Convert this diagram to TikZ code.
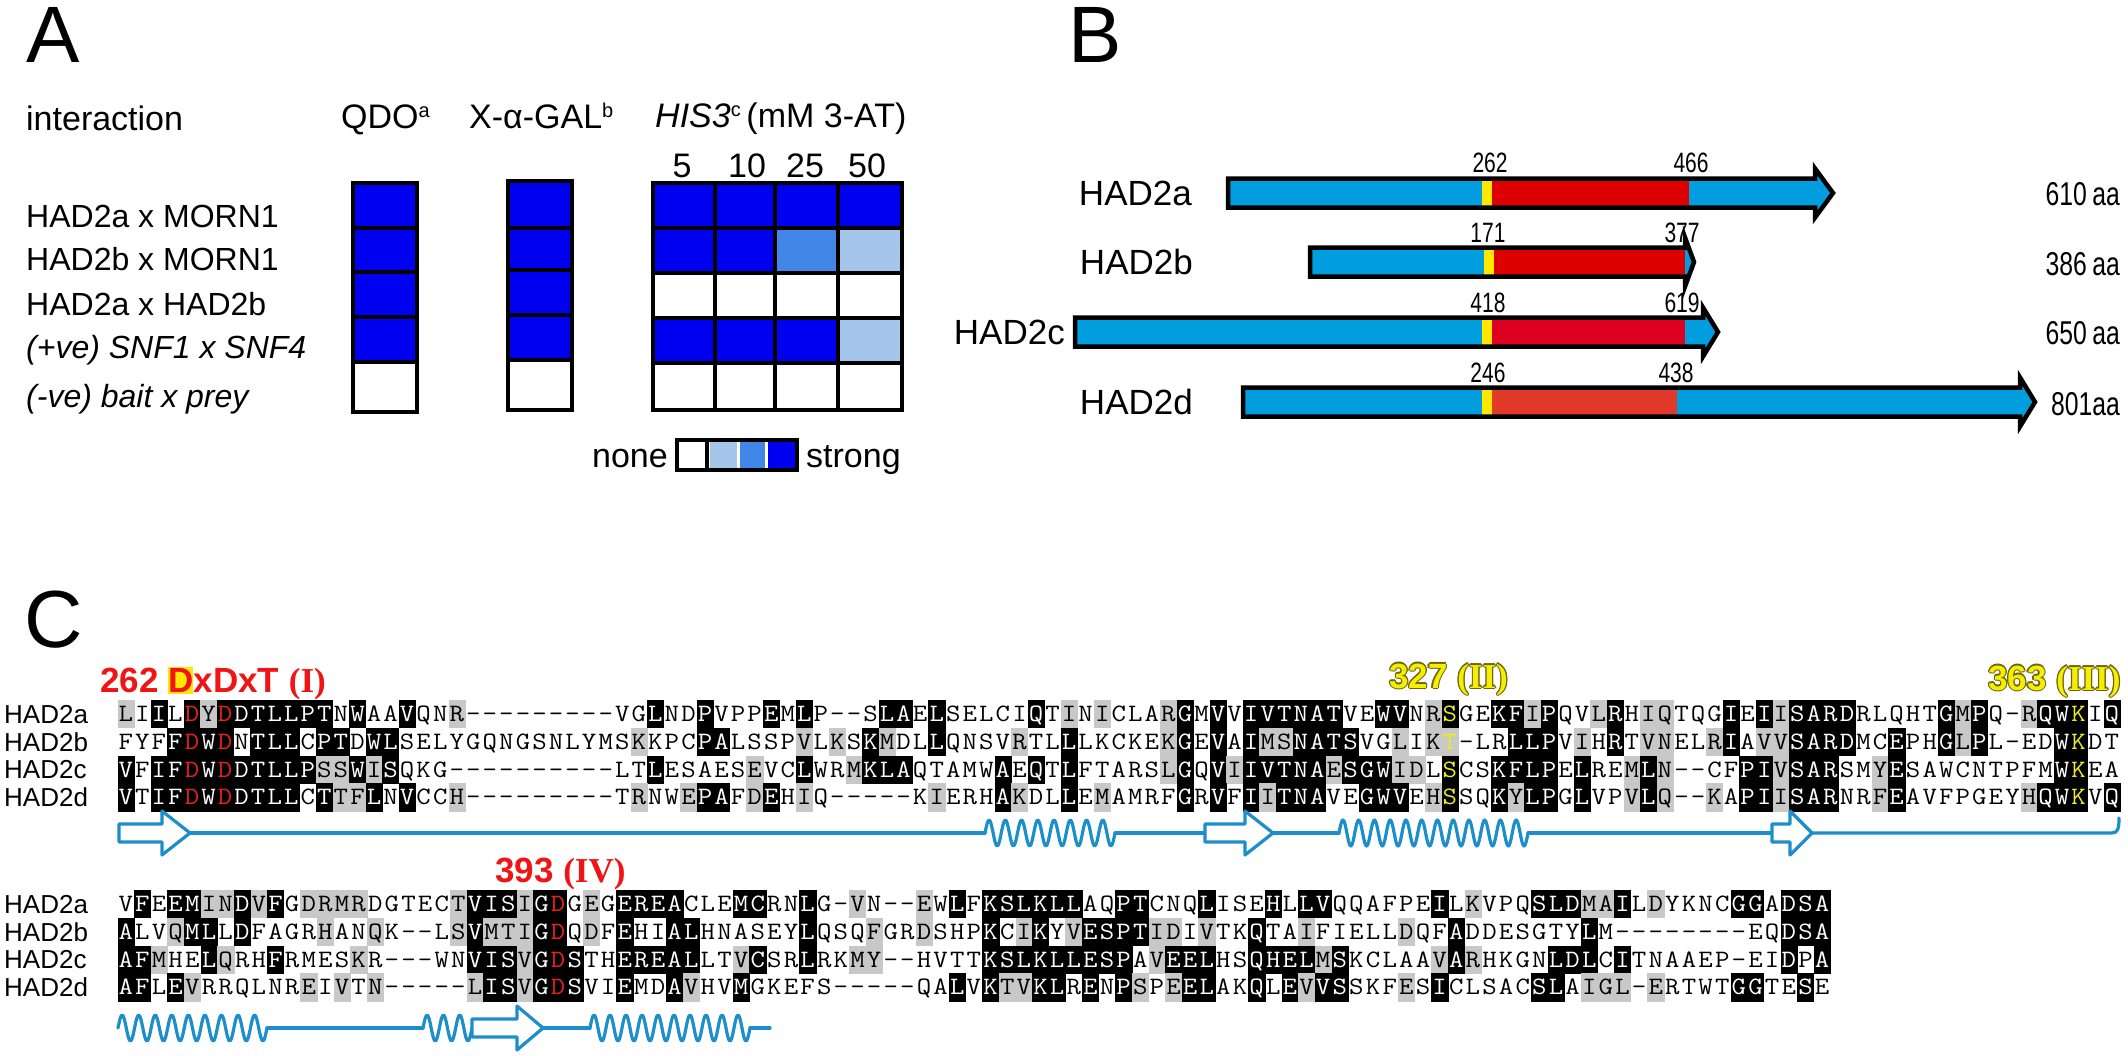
\documentclass[tikz,border=0pt]{standalone}
\usepackage{fontspec}
\usepackage{xstring}
\setmainfont{Liberation Sans}
\newfontfamily\condsans[FakeStretch=0.75]{Liberation Sans}
\newfontfamily\timesf{Liberation Serif}
\definecolor{hblue}{RGB}{0,0,240}
\definecolor{mblue}{RGB}{66,134,232}
\definecolor{lblue}{RGB}{164,198,234}
\definecolor{bcyan}{RGB}{0,158,222}
\definecolor{bred}{RGB}{220,0,0}
\definecolor{bredc}{RGB}{222,0,32}
\definecolor{bredd}{RGB}{226,58,42}
\definecolor{byel}{RGB}{255,232,0}
\definecolor{sscol}{RGB}{28,142,204}
\definecolor{shgray}{RGB}{200,200,200}
\definecolor{motred}{RGB}{240,20,20}
\definecolor{motyel}{RGB}{245,238,0}
\definecolor{ylout}{RGB}{110,100,20}
\definecolor{seqred}{RGB}{235,30,30}
\definecolor{seqyel}{RGB}{235,235,40}
\tikzset{
  seqtxt/.style={font=\ttfamily\fontsize{25}{25}\selectfont, inner sep=0pt, anchor=base, xscale=1.12},
  ss/.style={draw=sscol, line width=3.2pt, line cap=round, line join=round},
  thk/.style={line width=4pt},
  motif/.style={anchor=base west, inner sep=0pt, font=\bfseries\fontsize{35}{35}\selectfont},
  numl/.style={anchor=base, inner sep=0pt, font=\condsans\fontsize{28}{28}\selectfont},
  aal/.style={anchor=base east, inner sep=0pt, font=\condsans\fontsize{33}{33}\selectfont},
  blab/.style={anchor=base east, inner sep=0pt, font=\fontsize{35}{35}\selectfont},
  alab/.style={anchor=base west, inner sep=0pt, font=\fontsize{32}{32}\selectfont},
  hlab/.style={anchor=base west, inner sep=0pt, font=\fontsize{34}{34}\selectfont},
  slab/.style={anchor=base west, inner sep=0pt, font=\fontsize{26}{26}\selectfont},
  panel/.style={anchor=base west, inner sep=0pt, font=\fontsize{80}{80}\selectfont}
}
\newcommand\supr[1]{\raisebox{11pt}{\fontsize{20}{20}\selectfont #1}}
\def\pitch{16.55}
\def\rowh{27.7}
\newcommand\seqrow[5]{%
  \StrDel{#4}{|}[\resstr]%
  \StrDel{#5}{|}[\shstr]%
  \StrLen{\resstr}[\seqlen]%
  \foreach \k in {1,...,\seqlen}{%
    \StrChar{\resstr}{\k}[\ch]%
    \StrChar{\shstr}{\k}[\sh]%
    \pgfmathsetmacro\xl{#2+(\k-1)*\pitch}%
    \def\tcol{black}%
    \if\sh B\fill[black] (\xl,#3-\rowh/2) rectangle ++(\pitch+0.6,\rowh+0.6);\def\tcol{white}\fi
    \if\sh R\fill[black] (\xl,#3-\rowh/2) rectangle ++(\pitch+0.6,\rowh+0.6);\def\tcol{seqred}\fi
    \if\sh Y\fill[black] (\xl,#3-\rowh/2) rectangle ++(\pitch+0.6,\rowh+0.6);\def\tcol{seqyel}\fi
    \if\sh g\fill[shgray] (\xl,#3-\rowh/2) rectangle ++(\pitch+0.6,\rowh+0.6);\fi
    \if\sh y\fill[shgray] (\xl,#3-\rowh/2) rectangle ++(\pitch+0.6,\rowh+0.6);\def\tcol{seqyel}\fi
    \node[seqtxt,text=\tcol] (#1-\k) at (\xl+\pitch/2,#3+7.6) {\ch};
  }}
\newcommand\helix[3]{%
  \pgfmathtruncatemacro\hn{round((#2-#1)/16)}%
  \pgfmathsetmacro\hp{(#2-#1)/\hn}%
  \pgfmathtruncatemacro\hs{\hn*16+1}%
  \pgfmathsetmacro\hd{\hn*360}%
  \draw[ss] plot[domain=0:\hd, samples=\hs, smooth] ({#1+\x/360*\hp},{#3-13*sin(\x)});}
\newcommand\strand[4]{%
  \draw[ss,fill=white] (#1,#4-9) -- (#2,#4-9) -- (#2,#4-22) -- (#3,#4) -- (#2,#4+22) -- (#2,#4+9) -- (#1,#4+9) -- cycle;}
\newcommand\pbar[7]{%
  \fill[bcyan] (#1,#4-14.5) -- (#2,#4-14.5) -- (#2,#4-24.5) -- (#3,#4) -- (#2,#4+24.5) -- (#2,#4+14.5) -- (#1,#4+14.5) -- cycle;
  \fill[byel] (#5,#4-14.5) rectangle (#5+10,#4+14.5);
  \fill[#7] (#5+10,#4-14.5) rectangle (#6,#4+14.5);
  \draw[line width=4.5pt,line join=miter] (#1,#4-14.5) -- (#2,#4-14.5) -- (#2,#4-24.5) -- (#3,#4) -- (#2,#4+24.5) -- (#2,#4+14.5) -- (#1,#4+14.5) -- cycle;}
\newcommand\olabel[4]{%
  \foreach \dx/\dy in {-1.2/0,1.2/0,0/-1.2,0/1.2,-0.85/-0.85,0.85/0.85,-0.85/0.85,0.85/-0.85}{%
    \node[motif,text=ylout] at (#1+\dx,#2+\dy) {#4};}
  \node[motif,text=#3] (#1lab) at (#1,#2) {#4};}

\begin{document}
\begin{tikzpicture}[x=1pt,y=-1pt]
\useasboundingbox (0,0) rectangle (2128,1055);
\fill[white] (0,0) rectangle (2128,1055);

% ---------------- Panel A ----------------
\node[panel] (pA) at (26,62) {A};
\node[hlab] (hint) at (26,130) {interaction};
\node[hlab] (hqdo) at (341,128) {QDO\supr{a}};
\node[hlab] (hgal) at (469,128) {X-α-GAL\supr{b}};
\node[hlab] (hhis) at (655,127) {\textit{HIS3}\supr{c}\,(mM 3-AT)};
\node[hlab,anchor=base] (n5) at (682,177) {5};
\node[hlab,anchor=base] (n10) at (747,177) {10};
\node[hlab,anchor=base] (n25) at (805,177) {25};
\node[hlab,anchor=base] (n50) at (867,177) {50};
\node[alab] (r1) at (26,227) {HAD2a x MORN1};
\node[alab] (r2) at (26,270) {HAD2b x MORN1};
\node[alab] (r3) at (26,315) {HAD2a x HAD2b};
\node[alab] (r4) at (26,358) {\itshape (+ve) SNF1 x SNF4};
\node[alab] (r5) at (26,407) {\itshape (-ve) bait x prey};
% QDO column
\fill[hblue] (353,183) rectangle (417,362);
\draw[thk] (353,183) rectangle (417,412);
\foreach \yy in {228,272,317,362} \draw[thk] (353,\yy) -- (417,\yy);
% X-alpha-GAL column
\fill[hblue] (508,181) rectangle (572,360);
\draw[thk] (508,181) rectangle (572,410);
\foreach \yy in {228,270,315,360} \draw[thk] (508,\yy) -- (572,\yy);
% HIS3 grid
\fill[hblue] (653,183) rectangle (902,228);
\fill[hblue] (653,228) rectangle (775,273);
\fill[mblue] (775,228) rectangle (838,273);
\fill[lblue] (838,228) rectangle (902,273);
\fill[hblue] (653,318) rectangle (838,363);
\fill[lblue] (838,318) rectangle (902,363);
\draw[thk] (653,183) rectangle (902,410);
\foreach \yy in {228,273,318,363} \draw[thk] (653,\yy) -- (902,\yy);
\foreach \xx in {715,775,838} \draw[thk] (\xx,183) -- (\xx,410);
% legend
\node[hlab,anchor=base east] (lnone) at (668,467) {none};
\fill[lblue] (710,442) rectangle (737,468);
\fill[mblue] (740,442) rectangle (765,468);
\fill[hblue] (768,442) rectangle (795,468);
\draw[thk] (677,440) rectangle (797,470);
\draw[thk] (707,440) -- (707,470);
\node[hlab] (lstrong) at (806,467) {strong};

% ---------------- Panel B ----------------
\node[panel] (pB) at (1068,62) {B};
\pbar{1228}{1815}{1833}{193}{1482}{1689}{bred}
\pbar{1310}{1685}{1694}{262}{1484}{1685}{bred}
\pbar{1075}{1703}{1718}{332}{1482}{1685}{bredc}
\pbar{1243}{2020}{2035}{402}{1482}{1677}{bredd}
\node[blab] (ba) at (1192,205) {HAD2a};
\node[blab] (bb) at (1193,274) {HAD2b};
\node[blab] (bc) at (1065,344) {HAD2c};
\node[blab] (bd) at (1193,414) {HAD2d};
\node[numl] (a262) at (1490,172) {262};
\node[numl] (a466) at (1691,172) {466};
\node[numl] (b171) at (1488,242) {171};
\node[numl] (b377) at (1682,242) {377};
\node[numl] (c418) at (1488,312) {418};
\node[numl] (c619) at (1682,312) {619};
\node[numl] (d246) at (1488,382) {246};
\node[numl] (d438) at (1676,382) {438};
\node[aal] (aaa) at (2120,205) {610\,aa};
\node[aal] (aab) at (2120,275) {386\,aa};
\node[aal] (aac) at (2120,344) {650\,aa};
\node[aal] (aad) at (2120,415) {801aa};

% ---------------- Panel C ----------------
\node[panel,font=\fontsize{81}{81}\selectfont] (pC) at (24,647) {C};
% motif labels
\fill[byel] (168,667) rectangle (193,694);
\node[motif,text=motred] (m262) at (100,692) {262 DxDxT {\timesf\bfseries (I)}};
\olabel{1389}{688}{motyel}{327 {\timesf\bfseries (II)}}
\olabel{1988}{690}{motyel}{363 {\timesf\bfseries (III)}}
\node[motif,text=motred] (m393) at (495,882) {393 {\timesf\bfseries (IV)}};

% block 1
\node[slab] (l1a) at (4,723.3) {HAD2a};
\node[slab] (l1b) at (4,751) {HAD2b};
\node[slab] (l1c) at (4,778.7) {HAD2c};
\node[slab] (l1d) at (4,806.4) {HAD2d};
\seqrow{s1a}{117.5}{714}
{LIILDYDDTL|LPTNWAAVQN|R---------|VGLNDPVPPE|MLP--SLAEL|SELCIQTINI|CLARGMVVIV|TNATVEWVNR|SGEKFIPQVL|RHIQTQGIEI|ISARDRLQHT|GMPQ-RQWKI|Q}
{g.B.RgRBBB|BBB.B..B..|g.........|..B..B...B|.B....BB.B|.....B.g.g|...gB.B.BB|BBBB..BB.g|Y..BBgB..g|B.gg...B.B|gBBBB.....|BgB..gBBY.|B}
\seqrow{s1b}{117.5}{741.7}
{FYFFDWDNTL|LCPTDWLSEL|YGQNGSNLYM|SKKPCPALSS|PVLKSKMDLL|QNSVRTLLLK|CKEKGEVAIM|SNATSVGLIK|T-LRLLPVIH|RTVNELRIAV|VSARDMCEPH|GLPL-EDWKD|T}
{...BRBR.BB|B.BB.BB...|..........|.g...BB...|.g.g.Bg..B|....g..B..|...gB.B.Bg|gBBBB..g.g|y...BBB.g.|B.gg..gB.g|gBBBB..B..|BgB....BY.|.}
\seqrow{s1c}{117.5}{769.4}
{VFIFDWDDTL|LPSSWISQKG|----------|LTLESAESEV|CLWRMKLAQT|AMWAEQTLFT|ARSLGQVIIV|TNAESGWIDL|SCSKFLPELR|EMLN--CFPI|VSARSMYESA|WCNTPFMWKE|A}
{B.BBRBRBBB|BBggBgB...|..........|..B.....g.|.B..gBBB..|...B.B.B..|...gB.BgBB|BBBgBBBgg.|Y..BBBB.B.|.gBg....BB|gBBB..gB..|.......BY.|.}
\seqrow{s1d}{117.5}{797.1}
{VTIFDWDDTL|LCTTFLNVCC|H---------|TRNWEPAFDE|HIQ-----KI|ERHAKDLLEM|AMRFGRVFII|TNAVEGWVEH|SSQKYLPGLV|PVLQ--KAPI|ISARNRFEAV|FPGEYHQWKV|Q}
{B.BBRBRBBB|B.BggB.B..|g.........|.g..gBB.gB|.g.......g|...Bg..B.g|....B.B.Bg|BBB..BBB.g|Y..BgBB.B.|.gBg..g.BB|gBBB..gB..|.....gBBY.|B}
% secondary structure block 1
\draw[ss] (190,833) -- (985,833);
\helix{985}{1115}{833}
\draw[ss] (1115,833) -- (1205,833);
\draw[ss] (1273,833) -- (1339,833);
\helix{1339}{1528}{833}
\draw[ss] (1528,833) -- (1772,833);
\draw[ss] (1812,833) -- (2112,833) .. controls (2118,833) and (2119,828) .. (2119,818);
\strand{119}{162}{190}{833}
\strand{1205}{1245}{1273}{833}
\strand{1772}{1790}{1812}{833}

% block 2
\def\pitch{16.63}
\node[slab] (l2a) at (4,913.3) {HAD2a};
\node[slab] (l2b) at (4,941) {HAD2b};
\node[slab] (l2c) at (4,968.7) {HAD2c};
\node[slab] (l2d) at (4,996.4) {HAD2d};
\seqrow{s2a}{117.5}{904}
{VFEEMINDVF|GDRMRDGTEC|TVISIGDGEG|EREACLEMCR|NLG-VN--EW|LFKSLKLLAQ|PTCNQLISEH|LLVQQAFPEI|LKVPQSLDMA|ILDYKNCGGA|DSA}
{.B.BBggBgB|.gggg.....|gBBBgBR.g.|BBBB...BB.|.B..g...g.|B.BBBBBB..|BB...B...B|.BB......B|.g...BBBgg|B.g....BB.|BBB}
\seqrow{s2b}{117.5}{931.7}
{ALVQMLLDFA|GRHANQK--L|SVMTIGDQDF|EHIALHNASE|YLQSQFGRDS|HPKCIKYVES|PTIDIVTKQT|AIFIELLDQF|ADDESGTYLM|--------EQ|DSA}
{B..gBB.B..|..g..g....|gBgggBR.g.|B..BB.....|.B...g..g.|..B.gB.gBB|BBgg.g..B.|.g.....g..|B.......B.|..........|BBB}
\seqrow{s2c}{117.5}{959.4}
{AFMHELQRHF|RMESKR---W|NVISVGDSTH|EREALLTVCS|RLRKMY--HV|TTKSLKLLES|PAVEELHSQH|ELMSKCLAAV|ARHKGNLDLC|ITNAAEP-EI|DPA}
{BBg..Bg..B|....g.....|.BBBgBRB..|BBBBB..gB.|.B..gg....|..BBBBBBBB|B.gBBB..BB|BBgB.....g|Bg....BBB.|B.........|B.B}
\seqrow{s2d}{117.5}{987.1}
{AFLEVRRQLN|REIVTN----|-LISVGDSVI|EMDAVHVMGK|EFS-----QA|LVKTVKLREN|PSPEELAKQL|EVVSSKFESI|CLSACSLAIG|L-ERTWTGGT|ESE}
{BB.Bg.....|.g.g.g....|.gBBgBRB..|B..Bg..B..|..........|B.BggBB.B.|Bg.gBB..B.|BgBB...g.B|.....BB.gg|g.g....BB.|.B.}
% secondary structure block 2
\helix{118}{267}{1028}
\draw[ss] (267,1028) -- (423,1028);
\helix{423}{472}{1028}
\draw[ss] (543,1028) -- (590,1028);
\helix{590}{750}{1028}
\draw[ss] (750,1028) -- (770,1028);
\strand{472}{517}{543}{1028}
\end{tikzpicture}
\end{document}
